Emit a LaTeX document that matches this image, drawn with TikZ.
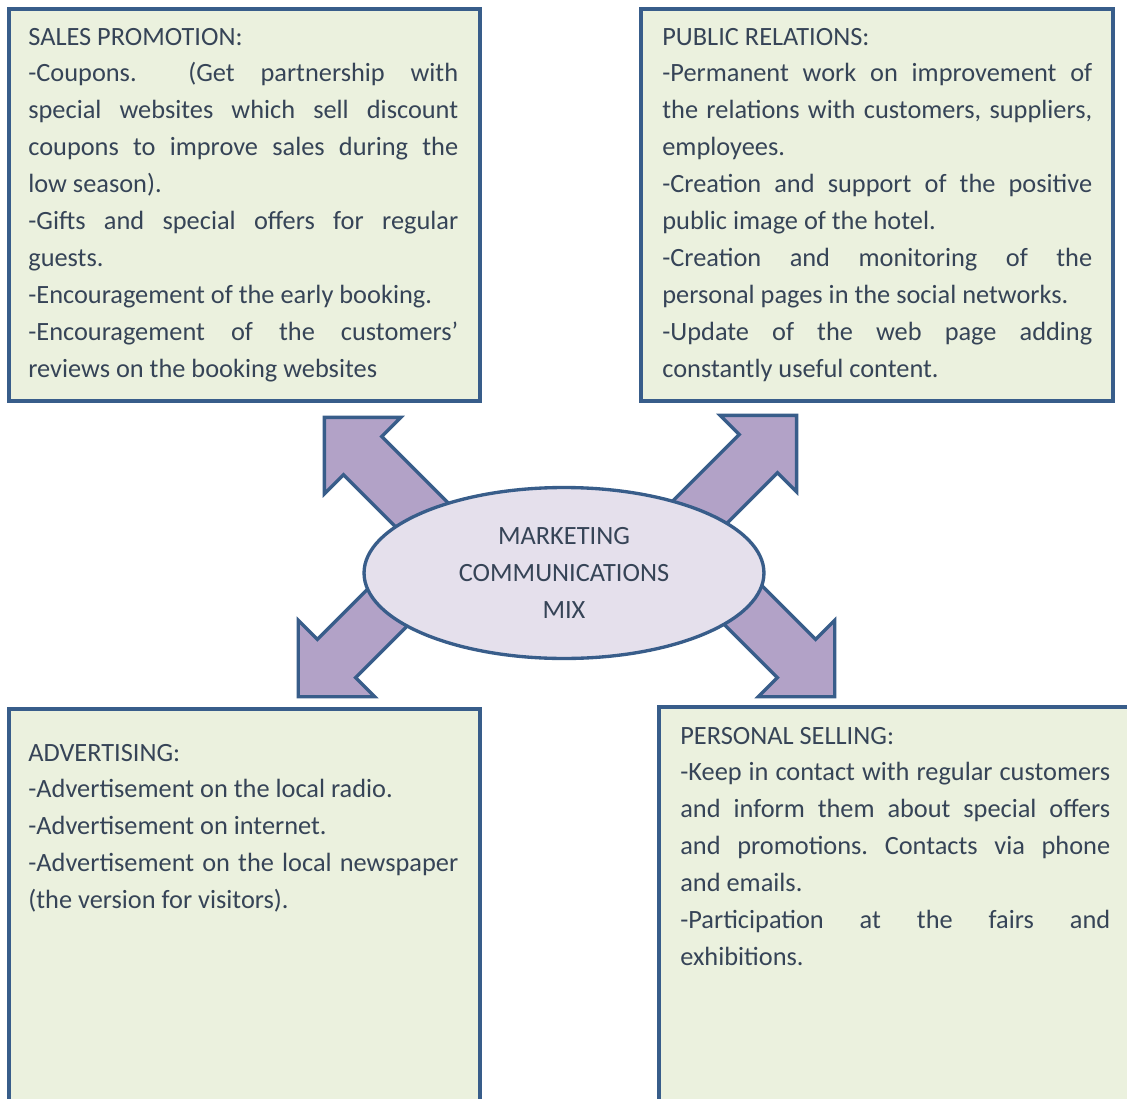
\documentclass[tikz,border=0pt]{standalone}
\usepackage{fontspec}
\setmainfont{Carlito}
\usetikzlibrary{shapes.geometric, positioning, calc, fit}
\definecolor{mixline}{HTML}{385D8A}
\definecolor{mixcard}{HTML}{EBF1DE}
\definecolor{mixarrow}{HTML}{B2A2C7}
\definecolor{mixhub}{HTML}{E5E0EC}
\definecolor{mixtext}{HTML}{364457}
\tolerance=9999
\hyphenpenalty=10000
\frenchspacing

\begin{document}
\begin{tikzpicture}[
    x=0.02cm, y=-0.02cm,
    card/.style={rectangle, draw=mixline, fill=mixcard, line width=2.1pt, inner sep=0pt},
    cardtext/.style={text=mixtext, text width=8.6cm, align=justify, inner sep=0pt, font=\fontsize{15}{21}\selectfont},
    hub/.style={ellipse, draw=mixline, fill=mixhub, line width=1.9pt, minimum width=8cm, minimum height=3.42cm, text=mixtext, align=center, font=\fontsize{15}{21}\selectfont},
    spoke/.style={draw=mixline, fill=mixarrow, line width=1.9pt, line join=miter},
    blockarrow/.pic={
        \draw[spoke] (0,-27) -- (#1-54,-27) -- (#1-54,-54) -- (#1,0) -- (#1-54,54) -- (#1-54,27) -- (0,27) -- cycle;
    }
]
\useasboundingbox (0,0) rectangle (1127,1099);
\clip (0,0) rectangle (1127,1099);

% the four boxes
\node[card, fit={(9,9) (480,401)}] (spbox) {};
\node[card, fit={(641,9) (1113,401)}] (prbox) {};
\node[card, fit={(9,709) (480,1115)}] (adbox) {};
\node[card, fit={(659,707) (1140,1115)}] (psbox) {};

\node[cardtext, anchor=base west] (sptext) at (28,45) {SALES PROMOTION:\\
-Coupons.\ \ (Get partnership with\linebreak special websites which sell discount\linebreak coupons to improve sales during the\linebreak low season).\\
-Gifts and special offers for regular\linebreak guests.\\
-Encouragement of the early booking.\\
-Encouragement of the customers’\linebreak reviews on the booking websites};

\node[cardtext, anchor=base west] (prtext) at (662,45) {PUBLIC RELATIONS:\\
-Permanent work on improvement of\linebreak the relations with customers, suppliers,\linebreak employees.\\
-Creation and support of the positive\linebreak public image of the hotel.\\
-Creation and monitoring of the\linebreak personal pages in the social networks.\\
-Update of the web page adding\linebreak constantly useful content.};

\node[cardtext, anchor=base west] (adtext) at (28,761) {ADVERTISING:\\
-Advertisement on the local radio.\\
-Advertisement on internet.\\
-Advertisement on the local newspaper\linebreak (the version for visitors).};

\node[cardtext, anchor=base west] (pstext) at (680,744) {PERSONAL SELLING:\\
-Keep in contact with regular customers\linebreak and inform them about special offers\linebreak and promotions. Contacts via phone\linebreak and emails.\\
-Participation at the fairs and\linebreak exhibitions.};

% arrows out of the ellipse
\coordinate (ultail) at (504,597);
\coordinate (urtail) at (617,595);
\coordinate (lltail) at (468,527);
\coordinate (lrtail) at (665,527);
\pic[rotate=135] at (ultail) {blockarrow=254};
\pic[rotate=45] at (urtail) {blockarrow=254};
\pic[rotate=225] at (lltail) {blockarrow=240};
\pic[rotate=-45] at (lrtail) {blockarrow=240};

\node[hub] (mix) at (564,573) {MARKETING\\COMMUNICATIONS\\MIX};
\end{tikzpicture}
\end{document}
